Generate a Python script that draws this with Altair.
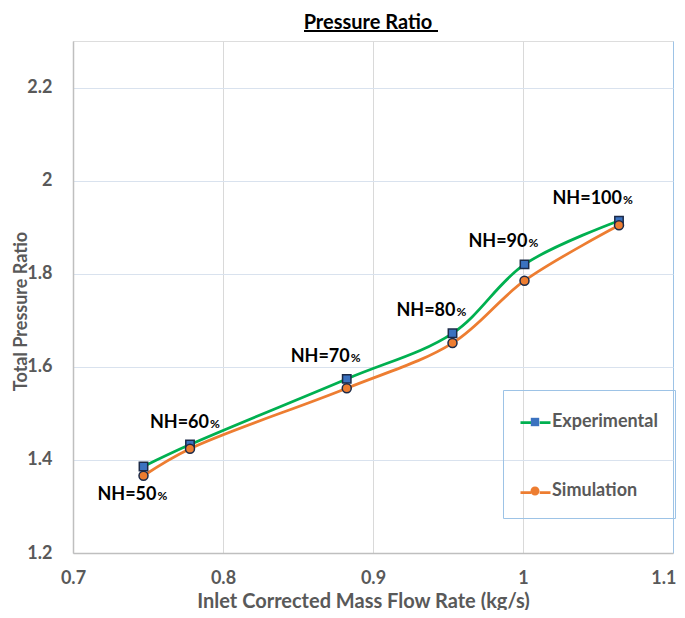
import altair as alt
import pandas as pd

# ---- data ----
speeds = [50, 60, 70, 80, 90, 100]
mass_flow = [0.747, 0.778, 0.8825, 0.953, 1.001, 1.064]
exp_pr = [1.386, 1.433, 1.574, 1.672, 1.820, 1.914]
sim_pr = [1.366, 1.424, 1.554, 1.651, 1.785, 1.904]
series_names = ["Experimental", "Simulation"]
x_ticks = [0.7, 0.8, 0.9, 1.0, 1.1]
y_ticks = [1.2, 1.4, 1.6, 1.8, 2.0, 2.2]

rows = []
for s, m, e, si in zip(speeds, mass_flow, exp_pr, sim_pr):
    rows.append(dict(speed=s, flow=m, pr=e, series="Experimental"))
    rows.append(dict(speed=s, flow=m, pr=si, series="Simulation"))
df = pd.DataFrame(rows)
df["series_pt"] = df["series"]
df["prefix"] = "NH=" + df["speed"].astype(str)
df["pct"] = "%"
exp_df = df[df["series"] == "Experimental"].copy()

FONT = "Lato"
GRAY = "#595959"
LEG_BORDER = "#9dc3e6"
MARK_EDGE = "#1c2a48"
# symbol paths (unit box -1..1 maps to sqrt(size) px)
square_path = "M-0.28,-0.28H0.28V0.28H-0.28Z"
circle_path = "M0.3,0A0.3,0.3,0,1,1,-0.3,0A0.3,0.3,0,1,1,0.3,0Z"
legend_line_path = "M-1,0H-0.28M0.28,0H1"

x_enc = alt.X(
    "flow:Q",
    scale=alt.Scale(domain=[0.7, 1.1], nice=False, zero=False),
    axis=alt.Axis(
        values=x_ticks, format="~g", title="Inlet Corrected Mass Flow Rate (kg/s)",
        grid=True,
        gridColor={"condition": {"test": "datum.value > 1.099", "value": LEG_BORDER}, "value": "#d9d9d9"},
        gridWidth=1, domainColor="#bfbfbf", domainWidth=1.5,
        ticks=False, tickSize=0, labelFlush=False,
        labelAlign={"condition": {"test": "datum.value > 1.099", "value": "right"}, "value": "center"},
        labelOffset={"condition": {"test": "datum.value > 1.099", "value": 3}, "value": 0},
        labelBaseline="alphabetic", labelPadding=30,
        labelFont=FONT, labelFontSize=18, labelFontWeight="bold", labelColor=GRAY,
        titleFont=FONT, titleFontSize=20, titleFontWeight="bold", titleColor=GRAY,
        titleX=290, titleY=54, titleBaseline="alphabetic", titleAlign="center",
    ),
)
y_enc = alt.Y(
    "pr:Q",
    scale=alt.Scale(domain=[1.2, 2.3], nice=False, zero=False),
    axis=alt.Axis(
        values=y_ticks, format="~g", title="Total Pressure Ratio",
        grid=True, gridColor="#d9e2ee", gridWidth=1,
        domainColor="#bfbfbf", domainWidth=1.5,
        ticks=False, tickSize=0, labelFlush=False, labelPadding=21,
        labelFont=FONT, labelFontSize=18, labelFontWeight="bold", labelColor=GRAY,
        titleFont=FONT, titleFontSize=18, titleFontWeight="bold", titleColor=GRAY,
        titleX=-47, titleY=270, titleAngle=-90, titleBaseline="alphabetic", titleAlign="center",
    ),
)

legend_common = dict(
    title=None, orient="none", legendX=430, legendY=349,
    symbolSize=900, padding=16, rowPadding=44, labelOffset=1,
    labelFont=FONT, labelFontSize=18, labelFontWeight="bold", labelColor=GRAY,
)

base = alt.Chart(df).encode(x=x_enc, y=y_enc)

# line layer: its own legend (line strokes only, labels hidden, box drawn)
lines = base.mark_line(interpolate="catmull-rom", strokeWidth=2.75).encode(
    stroke=alt.Stroke(
        "series:N",
        scale=alt.Scale(domain=series_names, range=["#00b050", "#ed7d31"]),
        legend=alt.Legend(symbolType=legend_line_path, symbolStrokeWidth=2.75,
                          labelOpacity=0, strokeColor=LEG_BORDER, zindex=0,
                          **legend_common),
    )
)

# marker layer: second legend drawn exactly on top (markers + labels)
pt_legend = alt.Legend(symbolStrokeColor=MARK_EDGE, symbolStrokeWidth=1.5,
                       zindex=1, **legend_common)
points = base.mark_point(filled=True, size=900, stroke=MARK_EDGE,
                         strokeWidth=1.5, opacity=1).encode(
    shape=alt.Shape("series_pt:N",
                    scale=alt.Scale(range=[square_path, circle_path]),
                    legend=pt_legend),
    fill=alt.Fill("series_pt:N",
                  scale=alt.Scale(range=["#3b72c0", "#ed7d31"]),
                  legend=pt_legend),
)

# speed labels "NH=xx" with a smaller "%"
lab_base = alt.Chart(exp_df).encode(x=alt.X("flow:Q"), y=alt.Y("pr:Q"))
txt_main = dict(font=FONT, fontWeight="bold", color="black", fontSize=18,
                align="right", baseline="alphabetic")
txt_pct = dict(font=FONT, fontWeight="bold", color="black", fontSize=12,
               align="left", baseline="alphabetic")

def label_pair(test, dx, dy):
    m = lab_base.transform_filter(test).mark_text(dx=dx, dy=dy, **txt_main).encode(text="prefix:N")
    p = lab_base.transform_filter(test).mark_text(dx=dx + 1, dy=dy, **txt_pct).encode(text="pct:N")
    return [m, p]

labels = (label_pair("datum.speed == 50", 13, 34)
          + label_pair("datum.speed == 60", 19, -17)
          + label_pair("datum.speed > 60", 3, -17))

underline = alt.Chart(pd.DataFrame({"u": [0]})).mark_rule(
    color="black", strokeWidth=2).encode(
    x=alt.value(231), x2=alt.value(365), y=alt.value(-10))

chart = alt.layer(
    lines, points, *labels, underline
).properties(
    width=600, height=512,
    title=alt.Title("Pressure Ratio", font=FONT, fontSize=20, fontWeight="bold",
                    color="black", anchor="middle", frame="group", offset=-3, dx=-5),
    autosize=alt.AutoSizeParams(type="none"),
    padding={"left": 65, "top": 33, "right": 4, "bottom": 57},
).configure_view(
    stroke=LEG_BORDER, strokeWidth=1.5
).configure(background="white")

chart.save("out.html", embed_options={"renderer": "svg", "actions": False})
